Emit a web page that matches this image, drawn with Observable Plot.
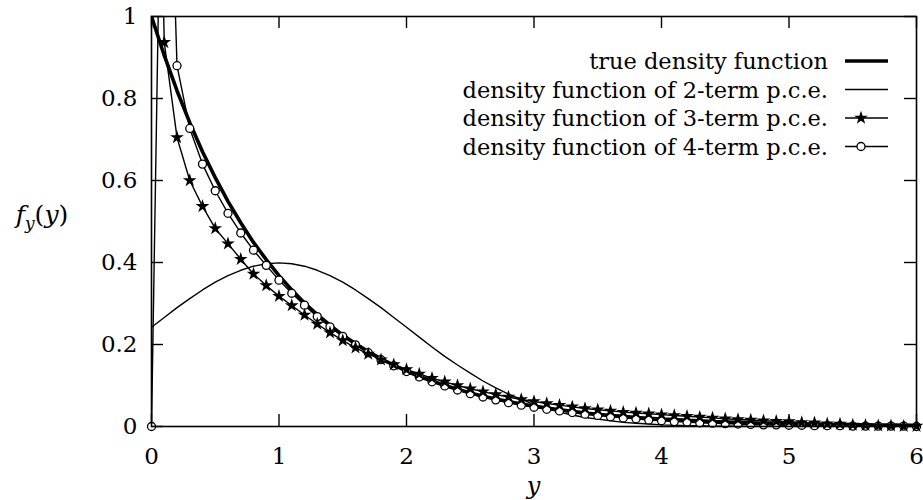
<!DOCTYPE html>
<html>
<head>
<meta charset="utf-8">
<script src="https://cdn.jsdelivr.net/npm/d3@7"></script>
<script src="https://cdn.jsdelivr.net/npm/@observablehq/plot@0.6"></script>
<style>
  html, body { margin: 0; padding: 0; background: #fff; }
  #chart svg { display: block; }
</style>
</head>
<body>
<div id="chart"></div>
<script>
// Sample points along y (0 to 6, every 0.1)
const yGrid = [
  0.0, 0.1, 0.2, 0.3, 0.4, 0.5, 0.6, 0.7, 0.8, 0.9,
  1.0, 1.1, 1.2, 1.3, 1.4, 1.5, 1.6, 1.7, 1.8, 1.9,
  2.0, 2.1, 2.2, 2.3, 2.4, 2.5, 2.6, 2.7, 2.8, 2.9,
  3.0, 3.1, 3.2, 3.3, 3.4, 3.5, 3.6, 3.7, 3.8, 3.9,
  4.0, 4.1, 4.2, 4.3, 4.4, 4.5, 4.6, 4.7, 4.8, 4.9,
  5.0, 5.1, 5.2, 5.3, 5.4, 5.5, 5.6, 5.7, 5.8, 5.9,
  6.0
];

// True density function
const trueDensity = [
  1.000, 0.905, 0.819, 0.741, 0.670, 0.607, 0.549, 0.497, 0.449, 0.407,
  0.368, 0.333, 0.301, 0.273, 0.247, 0.223, 0.202, 0.183, 0.165, 0.150,
  0.135, 0.122, 0.111, 0.100, 0.091, 0.082, 0.074, 0.067, 0.061, 0.055,
  0.050, 0.045, 0.041, 0.037, 0.033, 0.030, 0.027, 0.025, 0.022, 0.020,
  0.018, 0.017, 0.015, 0.014, 0.012, 0.011, 0.010, 0.009, 0.008, 0.007,
  0.007, 0.006, 0.006, 0.005, 0.005, 0.004, 0.004, 0.003, 0.003, 0.003,
  0.002
];

// Density of the 2-term p.c.e.
const pce2 = [
  0.242, 0.266, 0.290, 0.312, 0.333, 0.352, 0.368, 0.381, 0.391, 0.397,
  0.399, 0.397, 0.391, 0.381, 0.368, 0.352, 0.333, 0.312, 0.290, 0.266,
  0.242, 0.218, 0.194, 0.171, 0.150, 0.130, 0.111, 0.094, 0.079, 0.066,
  0.054, 0.044, 0.035, 0.028, 0.022, 0.018, 0.014, 0.010, 0.008, 0.006,
  0.004, 0.003, 0.002, 0.002, 0.001, 0.001, 0.001, 0.000, 0.000, 0.000,
  0.000, 0.000, 0.000, 0.000, 0.000, 0.000, 0.000, 0.000, 0.000, 0.000,
  0.000
];

// Density of the 3-term p.c.e. (first point lies above the frame)
const pce3 = [
  2.500, 0.937, 0.705, 0.600, 0.537, 0.483, 0.446, 0.408, 0.372, 0.344,
  0.318, 0.295, 0.272, 0.250, 0.229, 0.210, 0.192, 0.177, 0.163, 0.151,
  0.139, 0.128, 0.118, 0.109, 0.100, 0.092, 0.085, 0.078, 0.072, 0.066,
  0.061, 0.056, 0.052, 0.048, 0.044, 0.041, 0.038, 0.035, 0.033, 0.031,
  0.029, 0.027, 0.025, 0.023, 0.021, 0.019, 0.017, 0.016, 0.014, 0.013,
  0.012, 0.010, 0.009, 0.007, 0.006, 0.004, 0.003, 0.002, 0.002, 0.001,
  0.001
];

// Density of the 4-term p.c.e. (second point lies above the frame)
const pce4 = [
  0.000, 1.900, 0.880, 0.727, 0.640, 0.575, 0.520, 0.472, 0.430, 0.393,
  0.357, 0.325, 0.296, 0.268, 0.243, 0.220, 0.199, 0.180, 0.163, 0.148,
  0.134, 0.121, 0.109, 0.099, 0.089, 0.080, 0.072, 0.065, 0.058, 0.052,
  0.047, 0.042, 0.038, 0.034, 0.030, 0.027, 0.024, 0.021, 0.019, 0.016,
  0.014, 0.012, 0.011, 0.009, 0.008, 0.007, 0.006, 0.005, 0.004, 0.004,
  0.003, 0.003, 0.002, 0.002, 0.002, 0.001, 0.001, 0.001, 0.001, 0.001,
  0.000
];

const xTicks = [0, 1, 2, 3, 4, 5, 6];
const yTicks = [0, 0.2, 0.4, 0.6, 0.8, 1];

const legendLabels = [
  "true density function",
  "density function of 2-term p.c.e.",
  "density function of 3-term p.c.e.",
  "density function of 4-term p.c.e."
];

const toRows = (vals) => yGrid.map((y, i) => ({y, f: vals[i]}));
const trueRows = toRows(trueDensity);
const pce2Rows = toRows(pce2);
const pce3Rows = toRows(pce3);
const pce4Rows = toRows(pce4);
const inFrame = (d) => d.f <= 1;

const W = 923, H = 500;
const mL = 151, mR = 7, mT = 16, mB = 74;
const innerW = W - mL - mR, innerH = H - mT - mB;
const tickLen = 12;
const serif = "'DejaVu Serif', 'Liberation Serif', serif";

const plot = Plot.plot({
  width: W,
  height: H,
  marginLeft: mL,
  marginRight: mR,
  marginTop: mT,
  marginBottom: mB,
  style: {fontFamily: serif, fontSize: "23px", color: "#000", background: "#fff"},
  x: {domain: [0, 6]},
  y: {domain: [0, 1]},
  marks: [
    Plot.axisX(xTicks, {tickSize: 0, tickPadding: 21, label: null, tickFormat: (d) => String(d), fontSize: 23}),
    Plot.axisY(yTicks, {tickSize: 0, tickPadding: 14, label: null, tickFormat: (d) => String(d), fontSize: 23}),
    // inward ticks on all four sides
    Plot.tickX(xTicks, {x: (d) => d, insetTop: innerH - tickLen, strokeWidth: 1.4}),
    Plot.tickX(xTicks, {x: (d) => d, insetBottom: innerH - tickLen, strokeWidth: 1.4}),
    Plot.tickY(yTicks, {y: (d) => d, insetRight: innerW - tickLen, strokeWidth: 1.4}),
    Plot.tickY(yTicks, {y: (d) => d, insetLeft: innerW - tickLen, strokeWidth: 1.4}),
    // curves
    Plot.line(pce2Rows, {x: "y", y: "f", stroke: "#000", strokeWidth: 1.4, clip: true}),
    Plot.line(pce4Rows, {x: "y", y: "f", stroke: "#000", strokeWidth: 1.4, clip: true}),
    Plot.line(pce3Rows, {x: "y", y: "f", stroke: "#000", strokeWidth: 1.4, clip: true}),
    Plot.line(trueRows, {x: "y", y: "f", stroke: "#000", strokeWidth: 3.6, strokeLinejoin: "round", clip: true}),
    Plot.dot(pce4Rows.filter(inFrame), {x: "y", y: "f", symbol: "circle", r: 4, fill: "#fff", stroke: "#000", strokeWidth: 1.3}),
    Plot.dot(pce3Rows.filter(inFrame), {x: "y", y: "f", symbol: "star", r: 4.3, fill: "#000", stroke: "none"}),
    Plot.frame({stroke: "#000", strokeWidth: 1.6})
  ]
});

document.getElementById("chart").appendChild(plot);

// Axis titles and the legend, placed relative to the frame
const svg = d3.select(plot);
const sx = plot.scale("x");

svg.append("text")
  .attr("x", sx.apply(3))
  .attr("y", 494)
  .attr("text-anchor", "middle")
  .attr("font-family", serif)
  .attr("font-style", "italic")
  .attr("font-size", 24)
  .attr("fill", "#000")
  .text("y");

const yTitle = svg.append("text")
  .attr("x", 42)
  .attr("y", 223)
  .attr("text-anchor", "middle")
  .attr("font-family", serif)
  .attr("font-size", 25)
  .attr("fill", "#000");
yTitle.append("tspan").attr("font-style", "italic").text("f");
yTitle.append("tspan").attr("font-style", "italic").attr("font-size", 17).attr("dy", 6).text("y");
yTitle.append("tspan").attr("dy", -6).text("(");
yTitle.append("tspan").attr("font-style", "italic").text("y");
yTitle.append("tspan").text(")");

const legendRowY = [61, 89.5, 118, 146.5];
const textRight = 828, lineX1 = 845, lineX2 = 888, markX = 861;
const legend = svg.append("g").attr("font-family", serif).attr("font-size", 22.5).attr("fill", "#000");
legendLabels.forEach((label, i) => {
  const yy = legendRowY[i];
  legend.append("text")
    .attr("x", textRight).attr("y", yy).attr("dy", "0.36em")
    .attr("text-anchor", "end")
    .text(label);
  legend.append("line")
    .attr("x1", lineX1).attr("x2", lineX2).attr("y1", yy).attr("y2", yy)
    .attr("stroke", "#000").attr("stroke-width", i === 0 ? 3.6 : 1.4);
  if (i === 2) {
    legend.append("path")
      .attr("transform", `translate(${markX},${yy})`)
      .attr("d", d3.symbol(d3.symbolStar, Math.PI * 4.3 * 4.3)())
      .attr("fill", "#000");
  }
  if (i === 3) {
    legend.append("circle")
      .attr("cx", markX).attr("cy", yy).attr("r", 4)
      .attr("fill", "#fff").attr("stroke", "#000").attr("stroke-width", 1.3);
  }
});
</script>
</body>
</html>
